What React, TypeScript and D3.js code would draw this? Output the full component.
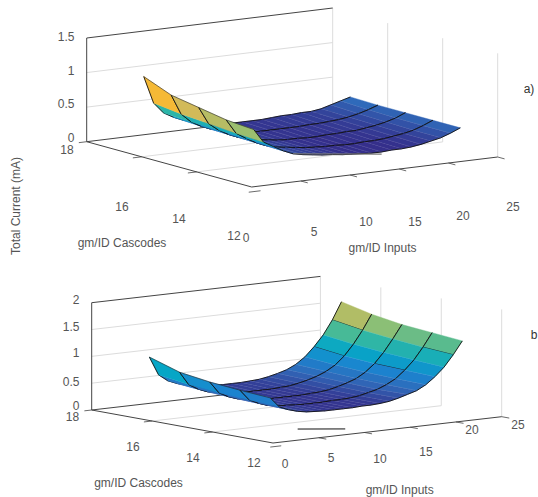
import React, {useEffect, useRef} from 'react';
import * as d3 from 'd3';

const width = 538;
const height = 497;

const inputs = [3, 4, 5, 6, 7, 8, 9, 10, 11, 12, 13, 14, 15, 16, 17, 18, 19, 20, 21, 22, 23, 24];
const cascodes = [17, 16, 15, 14, 13];

// total current (mA), one list per cascode gm/ID
const currentA17 = [1.0, 0.6, 0.44, 0.36, 0.3, 0.26, 0.23, 0.19, 0.18, 0.17, 0.17, 0.17, 0.17, 0.18, 0.19, 0.19, 0.2, 0.2, 0.22, 0.26, 0.3, 0.34];
const currentA16 = [0.84, 0.55, 0.42, 0.34, 0.28, 0.24, 0.21, 0.18, 0.17, 0.16, 0.16, 0.16, 0.16, 0.16, 0.17, 0.17, 0.18, 0.19, 0.21, 0.24, 0.28, 0.33];
const currentA15 = [0.77, 0.52, 0.41, 0.33, 0.27, 0.23, 0.2, 0.18, 0.16, 0.15, 0.15, 0.14, 0.14, 0.15, 0.15, 0.16, 0.16, 0.18, 0.2, 0.23, 0.27, 0.33];
const currentA14 = [0.7, 0.49, 0.4, 0.32, 0.26, 0.22, 0.2, 0.18, 0.16, 0.15, 0.14, 0.14, 0.13, 0.13, 0.14, 0.14, 0.15, 0.17, 0.19, 0.22, 0.27, 0.33];
const currentA13 = [0.67, 0.47, 0.39, 0.31, 0.25, 0.22, 0.2, 0.18, 0.17, 0.15, 0.14, 0.13, 0.12, 0.12, 0.13, 0.13, 0.14, 0.16, 0.19, 0.22, 0.27, 0.33];

// same for panel b
const currentB17 = [1.03, 0.68, 0.55, 0.48, 0.43, 0.4, 0.38, 0.37, 0.36, 0.36, 0.36, 0.37, 0.38, 0.41, 0.45, 0.5, 0.58, 0.7, 0.87, 1.07, 1.33, 1.65];
const currentB16 = [0.85, 0.6, 0.5, 0.43, 0.39, 0.37, 0.35, 0.34, 0.34, 0.34, 0.34, 0.35, 0.36, 0.39, 0.43, 0.48, 0.55, 0.65, 0.8, 1.0, 1.24, 1.52];
const currentB15 = [0.77, 0.55, 0.46, 0.4, 0.37, 0.35, 0.34, 0.33, 0.33, 0.33, 0.33, 0.34, 0.35, 0.37, 0.41, 0.46, 0.52, 0.62, 0.76, 0.95, 1.18, 1.43];
const currentB14 = [0.72, 0.52, 0.44, 0.38, 0.35, 0.34, 0.33, 0.32, 0.32, 0.32, 0.33, 0.33, 0.34, 0.36, 0.4, 0.44, 0.51, 0.6, 0.74, 0.91, 1.13, 1.38];
const currentB13 = [0.68, 0.49, 0.42, 0.37, 0.34, 0.33, 0.32, 0.32, 0.32, 0.32, 0.33, 0.33, 0.34, 0.36, 0.4, 0.45, 0.5, 0.59, 0.72, 0.88, 1.09, 1.33];

const inputTicks = [0, 5, 10, 15, 20, 25];
const cascodeTicks = [18, 16, 14, 12];
const currentTicksA = [0, 0.5, 1, 1.5];
const currentTicksB = [0, 0.5, 1, 1.5, 2];

// parula, slightly muted at the blue end like the picture
const parulaStops = [0, 0.125, 0.25, 0.375, 0.5, 0.625, 0.75, 0.875, 1];
const parulaColors = ['#352a87', '#3068b8', '#1a85d0', '#06a7c6', '#38b99e', '#92bf73', '#d9ba56', '#fcb92e', '#f9fb0e'];
const parula = d3.scaleLinear<string>().domain(parulaStops).range(parulaColors);

const panelA = {
    rows: [currentA17, currentA16, currentA15, currentA14, currentA13],
    currentTicks: currentTicksA,
    origin: [86.7, 141.7],
    inputRun: [246, -30],
    cascodeRun: [165, 45.3],
    currentMax: 1.5,
    wallHeight: 103.7,
    colorLevels: [0.14, 0.2, 0.33, 0.47, 0.6, 0.67, 1.0],
    colorAt: [0.01, 0.04, 0.115, 0.37, 0.47, 0.62, 0.85],
    crossLines: [] as number[][],
    floorStroke: {c: 13, from: [7, 0.25], to: [16, 0.09], color: '#777', w: 1.2},
    zLabels: [[74.5, 142], [74.5, 108], [74.5, 74.7], [74.5, 40.5]],
    cascodeLabels: [[67, 154], [122, 211], [179, 223], [234, 240]],
    inputLabels: [[246, 242], [314, 236], [366, 226], [415, 226], [463, 220], [513, 211]],
    cascodeTitle: [122, 247],
    inputTitle: [382.5, 252],
    tag: {text: 'a)', x: 529, y: 93},
};

const panelB = {
    rows: [currentB17, currentB16, currentB15, currentB14, currentB13],
    currentTicks: currentTicksB,
    origin: [91.7, 410],
    inputRun: [228.7, -26.3],
    cascodeRun: [181.3, 33],
    currentMax: 2,
    wallHeight: 107.3,
    colorLevels: [0.32, 1.65],
    colorAt: [0.02, 0.68],
    // [input, cascode from, cascode to]
    crossLines: [[23, 17, 16], [23, 14, 13], [21, 17, 16], [21, 15, 14]],
    floorStroke: {c: 13, from: [6, 0.04], to: [11.2, -0.06], color: '#111', w: 1},
    zLabels: [[79.5, 410], [79.5, 386], [79.5, 357], [79.5, 331], [79.5, 304]],
    cascodeLabels: [[72.5, 421], [133, 451], [193, 462], [254, 467]],
    inputLabels: [[285, 468], [331, 462], [380, 463], [426, 456], [472, 434], [518, 429]],
    cascodeTitle: [138.5, 487],
    inputTitle: [399.7, 494],
    tag: {text: 'b', x: 534, y: 339},
};

function drawPanel(svg: any, p: typeof panelA) {
    const inX = d3.scaleLinear().domain([0, 25]).range([0, p.inputRun[0]]);
    const inY = d3.scaleLinear().domain([0, 25]).range([0, p.inputRun[1]]);
    const casX = d3.scaleLinear().domain([18, 12]).range([0, p.cascodeRun[0]]);
    const casY = d3.scaleLinear().domain([18, 12]).range([0, p.cascodeRun[1]]);
    const curY = d3.scaleLinear().domain([0, p.currentMax]).range([0, p.wallHeight]);
    const project = (i: number, c: number, z: number): [number, number] => [
        p.origin[0] + inX(i) + casX(c),
        p.origin[1] + inY(i) + casY(c) - curY(z),
    ];
    const line = d3.line();
    const seg = (pts: [number, number][], color: string, w: number, parent: any = svg) =>
        parent.append('path').attr('d', line(pts)).attr('fill', 'none').attr('stroke', color).attr('stroke-width', w);

    const gridColor = '#dcdcdc';
    const axisColor = '#444';

    // back wall, floor and side wall grid
    p.currentTicks.slice(1, -1).forEach(z => seg([project(0, 18, z), project(25, 18, z)], gridColor, 1));
    [16, 14].forEach(c => seg([project(0, c, 0), project(25, c, 0)], gridColor, 1));
    cascodeTicks.forEach(c => seg([project(25, c, 0), project(25, c, p.currentMax)], gridColor, 1));

    // axes
    seg([project(0, 18, 0), project(25, 18, 0)], axisColor, 1);
    seg([project(0, 18, 0), project(0, 18, p.currentMax)], axisColor, 1);
    seg([project(0, 18, p.currentMax), project(25, 18, p.currentMax)], axisColor, 1);
    seg([project(0, 18, 0), project(0, 12, 0)], axisColor, 1);
    seg([project(0, 12, 0), project(25, 12, 0)], axisColor, 1);
    inputTicks.slice(1).forEach(i => seg([project(i, 12, 0), project(i, 11.75, 0)], axisColor, 0.8));
    [16, 14].forEach(c => seg([project(0, c, 0), project(-0.9, c, 0)], axisColor, 0.8));
    seg([project(-0.3, 12, -0.07), project(0.9, 12, -0.07)], axisColor, 0.8);
    seg([project(-0.8, 18, 0), project(0, 18, 0)], axisColor, 0.8);

    // surface: farthest facets first so the low-gm/ID strip ends up on top
    const levelToT = d3.scaleLinear().domain(p.colorLevels).range(p.colorAt).clamp(true);
    const surface = svg.append('g');
    for (let r = inputs.length - 2; r >= 0; r--) {
        for (let k = 0; k < cascodes.length - 1; k++) {
            const c0 = cascodes[k];
            const c1 = cascodes[k + 1];
            const z00 = p.rows[k][r];
            const z01 = p.rows[k][r + 1];
            const z10 = p.rows[k + 1][r];
            const z11 = p.rows[k + 1][r + 1];
            const fill = parula(levelToT(Math.max(z00, z01, z10, z11)));
            const quad = [
                project(inputs[r], c0, z00),
                project(inputs[r + 1], c0, z01),
                project(inputs[r + 1], c1, z11),
                project(inputs[r], c1, z10),
            ];
            surface.append('path')
                .attr('d', line(quad) + 'Z')
                .attr('fill', fill)
                .attr('stroke', fill)
                .attr('stroke-width', 0.4);
            if (r > 1) {
                seg([quad[0], quad[3]], '#ffffff', 0.5, surface).attr('stroke-opacity', 0.28);
            }
            seg([quad[0], quad[1]], '#111', 0.9, surface);
            seg([quad[3], quad[2]], '#111', 0.9, surface);
            p.crossLines
                .filter(l => l[0] === inputs[r] && l[1] === c0 && l[2] === c1)
                .forEach(() => seg([quad[0], quad[3]], '#111', 1, surface));
            if (r === 0) {
                seg([quad[0], quad[3]], '#222', 0.6, surface);
            }
        }
    }
    // the short stray line the original figure has near the minimum
    const f = p.floorStroke;
    seg([project(f.from[0], f.c, f.from[1]), project(f.to[0], f.c, f.to[1])], f.color, f.w);

    // labels
    const text = (s: string, x: number, y: number, anchor: string) =>
        svg.append('text')
            .attr('x', x)
            .attr('y', y)
            .attr('text-anchor', anchor)
            .attr('fill', '#555')
            .attr('font-family', '"Liberation Sans", sans-serif')
            .attr('font-size', 12)
            .text(s);
    p.currentTicks.forEach((z, n) => text(String(z), p.zLabels[n][0], p.zLabels[n][1], 'end'));
    cascodeTicks.forEach((c, n) => text(String(c), p.cascodeLabels[n][0], p.cascodeLabels[n][1], 'middle'));
    inputTicks.forEach((i, n) => text(String(i), p.inputLabels[n][0], p.inputLabels[n][1], 'middle'));
    text('gm/ID Cascodes', p.cascodeTitle[0], p.cascodeTitle[1], 'middle');
    text('gm/ID Inputs', p.inputTitle[0], p.inputTitle[1], 'middle');
    text(p.tag.text, p.tag.x, p.tag.y, 'middle').attr('fill', '#333');
}

export default function App() {
    const ref = useRef<SVGSVGElement>(null);

    useEffect(() => {
        const svg = d3.select(ref.current);
        svg.selectAll('*').remove();
        svg.append('rect').attr('width', width).attr('height', height).attr('fill', '#fff');
        drawPanel(svg, panelA);
        drawPanel(svg, panelB as any);
        svg.append('text')
            .attr('transform', 'translate(20,206) rotate(-90)')
            .attr('text-anchor', 'middle')
            .attr('fill', '#555')
            .attr('font-family', '"Liberation Sans", sans-serif')
            .attr('font-size', 12)
            .text('Total Current (mA)');
    }, []);

    return (
        <svg
            ref={ref}
            width={width}
            height={height}
            style={{position: 'absolute', top: 0, left: 0, display: 'block'}}
        />
    );
}
